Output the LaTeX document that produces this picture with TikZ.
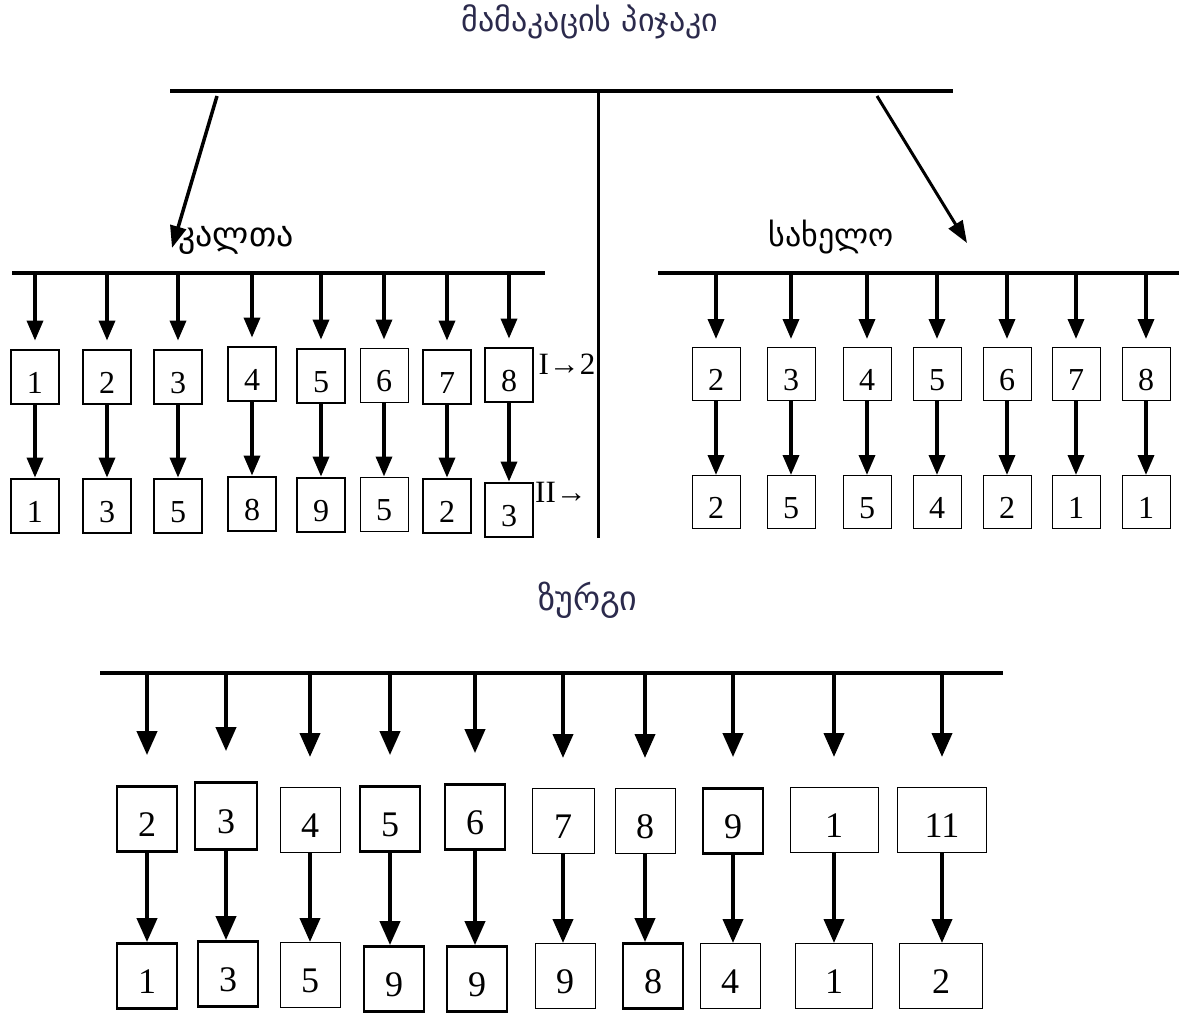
\documentclass[tikz,border=0pt]{standalone}
\usepackage{fontspec}
\setmainfont{Liberation Serif}
\newfontfamily\geo{DejaVu Sans}
\usetikzlibrary{arrows.meta}
\definecolor{navy}{HTML}{2B2A4C}
\begin{document}
\begin{tikzpicture}[x=1pt,y=-1pt,
  bar/.style={line width=3.5pt},
  boxk/.style={draw,line width=2.8pt,inner sep=0pt,text height=32pt,text depth=0pt,font=\fontsize{32}{32}\selectfont},
  boxn/.style={draw,line width=1pt,inner sep=0pt,text height=32pt,text depth=0pt,font=\fontsize{32}{32}\selectfont},
  Lbox/.style={minimum width=48pt,minimum height=54pt},
  Rbox/.style={minimum width=48pt,minimum height=53pt},
  Bbox/.style={minimum width=60pt,minimum height=65pt,text height=34pt,font=\fontsize{36}{36}\selectfont},
  arr/.style={line width=3.5pt,-{Triangle[width=16pt,length=20pt]}},
  barr/.style={line width=4pt,-{Triangle[width=20pt,length=24pt]}},
  geolab/.style={font=\geo\fontsize{32}{32}\selectfont}]
\useasboundingbox (0,0) rectangle (1179,1014);
% title
\node[geolab,text=navy] (title) at (590,22) {მამაკაცის პიჯაკი};
\coordinate (TL) at (170,91); \coordinate (TR) at (953,91);
\draw[bar] (TL) -- (TR);
\coordinate (VT) at (598,91); \coordinate (VB) at (598,538);
\draw[line width=3pt] (VT) -- (VB);
\node[geolab,font=\geo\fontsize{34}{34}\selectfont] (kalta) at (236,240) {კალთა};
\node[geolab] (sakhelo) at (831,237) {სახელო};
\coordinate (dl0) at (217,96); \coordinate (dl1) at (172,248);
\coordinate (dr0) at (877,96); \coordinate (dr1) at (967,243);
\draw[line width=3.5pt,-{Triangle[width=16pt,length=22pt]}] (dl0) -- (dl1);
\draw[line width=3pt,-{Triangle[width=16pt,length=22pt]}] (dr0) -- (dr1);
% left section
\coordinate (LB0) at (12,273); \coordinate (LB1) at (545,273);
\draw[bar] (LB0) -- (LB1);
\node[boxk,Lbox] (lt1) at (35,377) {1};
\node[boxk,Lbox] (lt2) at (107,377) {2};
\node[boxk,Lbox] (lt3) at (178,377) {3};
\node[boxk,Lbox] (lt4) at (252,374) {4};
\node[boxk,Lbox] (lt5) at (321,376) {5};
\node[boxn,Lbox] (lt6) at (384,375) {6};
\node[boxk,Lbox] (lt7) at (447,377) {7};
\node[boxk,Lbox] (lt8) at (509,375) {8};
\node[boxk,Lbox] (lb1) at (35,506) {1};
\node[boxk,Lbox] (lb2) at (107,506) {3};
\node[boxk,Lbox] (lb3) at (178,506) {5};
\node[boxk,Lbox] (lb4) at (252,504) {8};
\node[boxk,Lbox] (lb5) at (321,505) {9};
\node[boxn,Lbox] (lb6) at (384,504) {5};
\node[boxk,Lbox] (lb7) at (447,506) {2};
\node[boxk,Lbox] (lb8) at (509,510) {3};
\foreach \i in {1,...,8}{
  \draw[arr,shorten >=8pt] (lt\i.north |- LB0) -- (lt\i.north);
  \draw[arr] (lt\i.south) -- (lt\i.south |- lb\i.north);
}
\node[font=\fontsize{31}{31}\selectfont,inner sep=0pt] (I2) at (567,364) {I→2};
\node[font=\fontsize{31}{31}\selectfont,inner sep=0pt] (II) at (561,492) {II→};
% right section
\coordinate (RB0) at (658,273); \coordinate (RB1) at (1179,273);
\draw[bar] (RB0) -- (RB1);
\foreach \i/\x/\a/\b in {1/716/2/2,2/791/3/5,3/867/4/5,4/937/5/4,5/1007/6/2,6/1076/7/1,7/1146/8/1}{
  \node[boxn,Rbox] (rt\i) at (\x,374) {\a};
  \node[boxn,Rbox] (rb\i) at (\x,502) {\b};
  \draw[arr,shorten >=8pt] (rt\i.north |- RB0) -- (rt\i.north);
  \draw[arr] (rt\i.south) -- (rt\i.south |- rb\i.north);
}
% bottom section
\node[geolab,font=\geo\fontsize{34}{34}\selectfont,text=navy] (zurgi) at (588,600) {ზურგი};
\coordinate (BB0) at (100,673); \coordinate (BB1) at (1003,673);
\draw[bar] (BB0) -- (BB1);
\node[boxk,Bbox] (bt1) at (147,819) {2};
\node[boxk,Bbox,minimum width=62pt,minimum height=67pt] (bt2) at (226,816) {3};
\node[boxn,Bbox] (bt3) at (310,820) {4};
\node[boxk,Bbox] (bt4) at (390,819) {5};
\node[boxk,Bbox] (bt5) at (475,817) {6};
\node[boxn,Bbox,minimum width=62pt] (bt6) at (563,821) {7};
\node[boxn,Bbox] (bt7) at (645,821) {8};
\node[boxk,Bbox] (bt8) at (733,821) {9};
\node[boxn,Bbox,minimum width=88pt] (bt9) at (834,820) {1};
\node[boxn,Bbox,minimum width=89pt] (bt10) at (942,820) {11};
\node[boxk,Bbox] (bb1) at (147,976) {1};
\node[boxk,Bbox] (bb2) at (228,974) {3};
\node[boxn,Bbox] (bb3) at (310,975) {5};
\node[boxk,Bbox] (bb4) at (394,979) {9};
\node[boxk,Bbox] (bb5) at (477,979) {9};
\node[boxn,Bbox] (bb6) at (565,976) {9};
\node[boxk,Bbox] (bb7) at (653,976) {8};
\node[boxn,Bbox] (bb8) at (730,976) {4};
\node[boxn,Bbox,minimum width=77pt] (bb9) at (834,976) {1};
\node[boxn,Bbox,minimum width=83pt] (bb10) at (941,976) {2};
\foreach \i in {1,...,10}{
  \draw[barr,shorten >=30pt] (bt\i.north |- BB0) -- (bt\i.north);
  \draw[barr] (bt\i.south) -- (bt\i.south |- bb\i.north);
}
\end{tikzpicture}
\end{document}
